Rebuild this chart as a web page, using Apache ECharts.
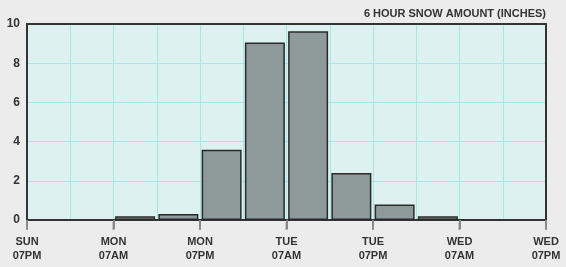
<!DOCTYPE html>
<html><head><meta charset="utf-8">
<script src="https://cdn.jsdelivr.net/npm/echarts@6/dist/echarts.min.js"></script>
<style>html,body{margin:0;padding:0;background:#ececec;}#c{width:566px;height:267px;}</style>
</head><body><div id="c"></div>
<script>
var title = '6 HOUR SNOW AMOUNT (INCHES)';
var tickLabels = ['SUN\n07PM','MON\n07AM','MON\n07PM','TUE\n07AM','TUE\n07PM','WED\n07AM','WED\n07PM'];
var tickHours = 12;
var binHours = 6;
var snow = [0, 0, 0.19, 0.31, 3.58, 9.05, 9.63, 2.4, 0.79, 0.19, 0, 0];

var data = snow.map(function(v, i){ return [i*binHours + binHours/2, v > 0 ? v : '-']; });
var tickMarks = tickLabels.map(function(t, i){ return [i*tickHours, 0]; });
var xMax = (tickLabels.length - 1) * tickHours;
var chart = echarts.init(document.getElementById('c'));
var font = 'Liberation Sans, Arial, Helvetica, sans-serif';
var gridColor = '#abe6e6';
var frame = {show: true, onZero: false, lineStyle: {color: '#333', width: 2}};
chart.setOption({
  backgroundColor: '#ececec',
  animation: false,
  title: {text: title, right: 15, top: 3, textStyle:{fontFamily: font, fontSize: 11, fontWeight:'bold', color:'#333'}},
  grid: {left: 27, right: 20, top: 24, bottom: 47, show: true, backgroundColor: '#ddf2f0', borderWidth: 0},
  xAxis: [{
    type: 'value', min: 0, max: xMax, interval: binHours, position: 'bottom',
    axisLine: {show: false}, axisTick: {show: false}, axisLabel: {show: false},
    splitLine: {show: true, lineStyle: {color: gridColor, width: 1}}
  }, {
    type: 'value', position: 'top', min: 0, max: xMax, interval: tickHours,
    axisLine: frame, axisTick: {show: false}, axisLabel: {show: false}, splitLine: {show: false}
  }, {
    type: 'value', min: 0, max: xMax, interval: tickHours, position: 'bottom',
    axisLine: frame,
    axisTick: {show: true, inside: false, length: 9, lineStyle: {color: '#888', width: 2}},
    axisLabel: {margin: 15, lineHeight: 14, fontFamily: font, fontSize: 11, fontWeight: 'bold', color: '#333',
      formatter: function(v){ return tickLabels[Math.round(v/tickHours)] || ''; }},
    splitLine: {show: false}
  }],
  yAxis: [{
    type: 'value', min: 0, max: 10, interval: 2,
    axisLine: frame, axisTick: {show: false},
    axisLabel: {margin: 7, fontFamily: font, fontSize: 12, fontWeight: 'bold', color: '#333'},
    splitLine: {show: true, lineStyle: {color: gridColor, width: 1}}
  }, {
    type: 'value', position: 'right', min: 0, max: 10, interval: 2,
    axisLine: frame, axisTick: {show: false}, axisLabel: {show: false}, splitLine: {show: false}
  }],
  series: [{
    type: 'bar', data: data, barWidth: 40, xAxisIndex: 0, yAxisIndex: 0,
    itemStyle: {color: 'rgba(133,147,145,0.92)', borderColor: '#2a2a2a', borderWidth: 1.5}
  }, {
    type: 'scatter', data: tickMarks, xAxisIndex: 2, yAxisIndex: 0, clip: false, silent: true,
    symbol: 'rect', symbolSize: [2, 8], symbolOffset: [0, 6],
    itemStyle: {color: '#888'}, z: 1
  }]
});
</script></body></html>
